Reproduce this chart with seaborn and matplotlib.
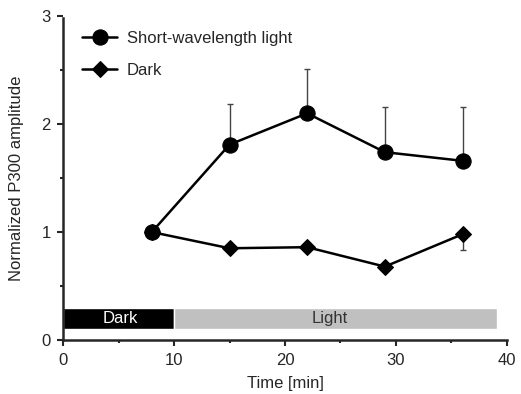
import numpy as np
import pandas as pd
import seaborn as sns
import matplotlib.pyplot as plt
from matplotlib.ticker import MultipleLocator

# data
time = [8, 15, 22, 29, 36]
short_wl = [1.0, 1.81, 2.10, 1.74, 1.66]
short_wl_err = [0.0, 0.38, 0.41, 0.42, 0.50]
dark = [1.0, 0.85, 0.86, 0.68, 0.98]
dark_err = [0.0, 0.0, 0.0, 0.0, 0.15]

sns.set_style("ticks")
plt.rcParams['font.family'] = ['Liberation Sans', 'DejaVu Sans']
fs = 12

df = pd.DataFrame({
    'Time': time * 2,
    'Amp': short_wl + dark,
    'Cond': ['Short-wavelength light'] * 5 + ['Dark'] * 5,
})

fig = plt.figure(figsize=(5.21, 3.94), dpi=100)
ax = fig.add_axes([0.121, 0.137, 0.852, 0.822])

# error bars (one-sided)
ax.errorbar(time, short_wl, yerr=[np.zeros(5), short_wl_err], fmt='none',
            ecolor='#444444', elinewidth=1, capsize=2, capthick=1, zorder=1)
ax.errorbar(time, dark, yerr=[dark_err, np.zeros(5)], fmt='none',
            ecolor='#444444', elinewidth=1, capsize=2, capthick=1, zorder=1)

sns.lineplot(data=df, x='Time', y='Amp', hue='Cond', style='Cond',
             markers={'Short-wavelength light': 'o', 'Dark': 'D'},
             dashes=False, palette=['black', 'black'], linewidth=1.8,
             markersize=11, markeredgecolor='black', ax=ax, zorder=3)
for line in ax.lines:
    if line.get_marker() == 'D':
        line.set_markersize(8.5)

# dark / light bar
ax.barh(0.2, 10, left=0, height=0.2, color='black', zorder=2)
ax.barh(0.2, 29.1, left=10, height=0.2, color='#c0c0c0', zorder=2)
ax.text(5.2, 0.2, 'Dark', color='white', ha='center', va='center', fontsize=fs)
ax.text(24, 0.2, 'Light', color='#333333', ha='center', va='center', fontsize=fs)

ax.set_xlim(0, 40)
ax.set_ylim(0, 3)
ax.xaxis.set_major_locator(MultipleLocator(10))
ax.xaxis.set_minor_locator(MultipleLocator(5))
ax.yaxis.set_major_locator(MultipleLocator(1))
ax.yaxis.set_minor_locator(MultipleLocator(0.5))
ax.tick_params(which='major', length=4, width=1.5, labelsize=fs, pad=5)
ax.tick_params(which='minor', length=2, width=1.5)
for s in ['left', 'bottom']:
    ax.spines[s].set_linewidth(1.8)
sns.despine(ax=ax)
ax.spines['left'].set_bounds(0, 2.98)

ax.set_xlabel('Time [min]', fontsize=fs, labelpad=6)
ax.set_ylabel('Normalized P300 amplitude', fontsize=fs, labelpad=12)

leg = ax.legend(loc='upper left', bbox_to_anchor=(0.01, 1.0), frameon=False,
                fontsize=fs, handlelength=2.05, handletextpad=0.6,
                labelspacing=1.0, title=None)
for h in leg.legend_handles:
    h.set_markeredgecolor('black')

fig.savefig('out.png', dpi=100)
